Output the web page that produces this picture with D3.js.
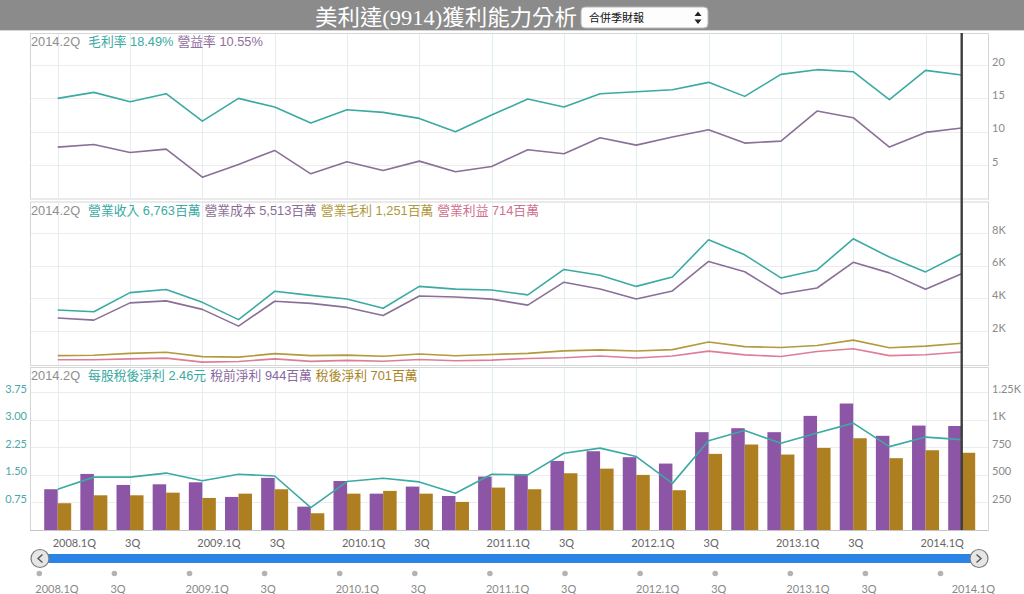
<!DOCTYPE html>
<html><head><meta charset="utf-8">
<script src="https://cdn.jsdelivr.net/npm/d3@7"></script>
<style>body{margin:0;background:#fff;overflow:hidden} svg{display:block}</style>
</head><body><svg id="c" width="1024" height="594"></svg>
<script>
// ---------- DATA ----------
const quarters = ["2008.1Q","2008.2Q","2008.3Q","2008.4Q","2009.1Q","2009.2Q","2009.3Q","2009.4Q",
  "2010.1Q","2010.2Q","2010.3Q","2010.4Q","2011.1Q","2011.2Q","2011.3Q","2011.4Q",
  "2012.1Q","2012.2Q","2012.3Q","2012.4Q","2013.1Q","2013.2Q","2013.3Q","2013.4Q","2014.1Q","2014.2Q"];
// panel 1 (%)
const grossMargin = [15.0,15.9,14.5,15.7,11.6,15.0,13.7,11.3,13.3,12.9,12.0,10.0,12.5,14.9,13.7,15.7,16.0,16.3,17.4,15.3,18.6,19.3,19.0,14.8,19.2,18.49];
const opMargin    = [7.7,8.1,6.9,7.4,3.2,5.1,7.2,3.7,5.5,4.2,5.6,4.0,4.8,7.3,6.7,9.1,8.0,9.2,10.3,8.3,8.6,13.1,12.1,7.7,9.9,10.55];
// panel 2 (百萬)
const revenue     = [3290,3180,4360,4550,3760,2700,4440,4190,3970,3400,4740,4570,4520,4220,5780,5420,4740,5320,7600,6680,5260,5750,7660,6540,5630,6763];
const cost        = [2800,2670,3730,3850,3330,2300,3830,3700,3450,2950,4150,4090,3960,3590,5000,4580,3970,4460,6270,5640,4270,4640,6220,5570,4560,5513];
const grossProfit = [490,510,630,700,430,400,610,490,520,450,590,480,560,630,780,840,770,860,1330,1040,990,1110,1440,970,1070,1251];
const opIncome    = [235,240,290,335,90,125,290,135,195,140,250,175,215,310,355,470,345,465,765,535,435,740,915,490,540,714];
// panel 3
const eps         = [1.11,1.44,1.44,1.55,1.34,1.52,1.47,0.61,1.32,1.41,1.31,1.00,1.52,1.50,2.09,2.23,2.00,1.27,2.43,2.71,2.36,2.64,2.91,2.27,2.53,2.46];
const preTax      = [370,509,409,415,433,300,473,212,445,330,394,309,485,500,627,715,661,603,888,924,888,1036,1148,855,948,944];
const afterTax    = [243,315,315,339,291,330,370,152,330,355,330,255,385,370,515,557,500,361,691,776,685,745,833,652,724,701];
// tick labels
const p1Ticks = [5,10,15,20];
const p2Ticks = [2000,4000,6000,8000];
const p2TickLabels = ["2K","4K","6K","8K"];
const p3LeftTicks = [0.75,1.5,2.25,3.0,3.75];
const p3RightTicks = [250,500,750,1000,1250];
const p3RightLabels = ["250","500","750","1K","1.25K"];
const axisLabelIdx = [0,2,4,6,8,10,12,14,16,18,20,22,24];
const axisLabels = ["2008.1Q","3Q","2009.1Q","3Q","2010.1Q","3Q","2011.1Q","3Q","2012.1Q","3Q","2013.1Q","3Q","2014.1Q"];
const titleText = "美利達(9914)獲利能力分析";
const selectText = "合併季財報";

// ---------- LAYOUT ----------
const svg = d3.select("#c");
const W = 1024, L = 30, R = 988;
const P = [{t:33,b:198.5},{t:201.5,b:365},{t:367,b:530}];
const C = {teal:"#3aaaa2", purple:"#8a6f98", gold:"#b39a3e", pink:"#de7d96",
           barP:"#8c55a6", barG:"#ae7f20", grid:"#ececec", vgrid:"#e0edf1", lbl:"#8a8a8a"};
const FONT = "'Liberation Sans','Noto Sans CJK TC',sans-serif";
const NUMF = "Lato,'Liberation Sans',sans-serif";

const x = d3.scaleLinear().domain([0, quarters.length-1]).range([57.7, 961.7]);
const y1 = d3.scaleLinear().domain([0,20]).range([P[0].b, 65]);
const y2 = d3.scaleLinear().domain([0,8000]).range([363.6, 233.3]);
const y3L = d3.scaleLinear().domain([0,3.75]).range([530, 392.3]);
const y3R = d3.scaleLinear().domain([0,1250]).range([530, 392.3]);
const band = d3.scaleBand().domain(["pre","post"]).range([-13.5, 13.5]).padding(0);

// title bar
svg.append("rect").attr("x",0).attr("y",0).attr("width",W).attr("height",30).attr("fill","#8b8b8b");
svg.append("rect").attr("x",0).attr("y",30).attr("width",W).attr("height",1).attr("fill","#d4d4d4");
svg.append("text").attr("x",315).attr("y",25).attr("fill","#fff")
  .attr("font-family","'Liberation Serif','Noto Sans CJK TC',serif").attr("font-size",22)
  .attr("textLength",262).attr("lengthAdjust","spacingAndGlyphs").text(titleText);
// select box
const sel = svg.append("g");
sel.append("rect").attr("x",581).attr("y",7).attr("width",127).attr("height",21).attr("rx",4)
  .attr("fill","#fdfdfd").attr("stroke","#b5b5b5");
sel.append("text").attr("x",589).attr("y",22).attr("font-size",11).attr("fill","#111")
  .attr("font-family","'Noto Sans CJK TC',sans-serif").text(selectText);
sel.append("path").attr("d","M698,11.5 L701.5,16 L694.5,16 Z M698,24 L701.5,19.5 L694.5,19.5 Z").attr("fill","#222");

// panels
P.forEach(p=>{
  svg.append("rect").attr("x",L+0.5).attr("y",p.t+0.5).attr("width",R-L).attr("height",p.b-p.t)
    .attr("fill","#fff").attr("stroke","#d6d6d6");
});
// vertical grid
P.forEach(p=>{
  svg.append("g").selectAll("line").data(axisLabelIdx).join("line")
    .attr("x1",d=>Math.round(x(d))+0.5).attr("x2",d=>Math.round(x(d))+0.5)
    .attr("y1",p.t+1).attr("y2",p.b).attr("stroke",C.vgrid);
});
function hgrid(scale, ticks){
  svg.append("g").selectAll("line").data(ticks).join("line")
    .attr("x1",L+1).attr("x2",R).attr("y1",d=>Math.round(scale(d))+0.5).attr("y2",d=>Math.round(scale(d))+0.5)
    .attr("stroke",C.grid);
}
hgrid(y1,p1Ticks); hgrid(y2,p2Ticks); hgrid(y3L,p3LeftTicks);

// right axes
function rightAxis(scale, ticks, labels){
  const g = svg.append("g").attr("transform",`translate(992,0)`)
    .call(d3.axisRight(scale).tickValues(ticks).tickSize(0).tickPadding(0)
      .tickFormat((d,i)=>labels? labels[i] : d));
  g.select(".domain").remove();
  g.selectAll("text").attr("dy","0").attr("fill",C.lbl).attr("font-size",11).attr("font-family",NUMF);
}
rightAxis(y1,p1Ticks,null);
rightAxis(y2,p2Ticks,p2TickLabels);
rightAxis(y3R,p3RightTicks,p3RightLabels);
// left axis panel 3
{
  const g = svg.append("g").attr("transform",`translate(27,0)`)
    .call(d3.axisLeft(y3L).tickValues(p3LeftTicks).tickSize(0).tickPadding(0).tickFormat(d3.format(".2f")));
  g.select(".domain").remove();
  g.selectAll("text").attr("dy","0").attr("fill","#4aa8a8").attr("font-size",11).attr("font-family",NUMF);
}

// line helper
function drawLine(data, scale, color){
  svg.append("path").datum(data)
    .attr("d", d3.line().x((d,i)=>x(i)).y(d=>scale(d)))
    .attr("fill","none").attr("stroke",color).attr("stroke-width",1.6).attr("stroke-linejoin","round");
}
// panel 1
drawLine(grossMargin,y1,C.teal);
drawLine(opMargin,y1,C.purple);
// panel 2
drawLine(grossProfit,y2,C.gold);
drawLine(opIncome,y2,C.pink);
drawLine(cost,y2,C.purple);
drawLine(revenue,y2,C.teal);
// panel 3 bars
svg.append("g").selectAll("rect").data(preTax).join("rect")
  .attr("x",(d,i)=>x(i)+band("pre")).attr("width",band.bandwidth())
  .attr("y",d=>y3R(d)).attr("height",d=>y3R(0)-y3R(d)).attr("fill",C.barP);
svg.append("g").selectAll("rect").data(afterTax).join("rect")
  .attr("x",(d,i)=>x(i)+band("post")).attr("width",band.bandwidth())
  .attr("y",d=>y3R(d)).attr("height",d=>y3R(0)-y3R(d)).attr("fill",C.barG);
drawLine(eps,y3L,C.teal);
// bottom axis line
svg.append("line").attr("x1",L).attr("x2",R).attr("y1",530.5).attr("y2",530.5).attr("stroke","#c4c4c4");

// crosshair at last quarter
const last = quarters.length-1;
svg.append("line").attr("x1",x(last)).attr("x2",x(last)).attr("y1",P[0].t).attr("y2",530)
  .attr("stroke","#3e3e3e").attr("stroke-width",2.4);

// legends
const fmt = d3.format(",");
function legend(y, items){
  const t = svg.append("text").attr("x",31).attr("y",y).attr("font-size",12.8).attr("font-family",FONT);
  t.append("tspan").attr("fill","#8e8e8e").text(quarters[last]);
  items.forEach((it,k)=>{
    t.append("tspan").attr("dx", k===0?8:4).attr("fill",it[1]).text(it[0]);
  });
}
legend(45.5,[["毛利率 "+grossMargin[last]+"%",C.teal],["營益率 "+opMargin[last]+"%","#8e6e9e"]]);
legend(214.5,[["營業收入 "+fmt(revenue[last])+"百萬",C.teal],["營業成本 "+fmt(cost[last])+"百萬","#8a6e96"],
  ["營業毛利 "+fmt(grossProfit[last])+"百萬","#b09838"],["營業利益 "+fmt(opIncome[last])+"百萬","#d0708c"]]);
legend(380,[["每股稅後淨利 "+eps[last]+"元",C.teal],["稅前淨利 "+fmt(preTax[last])+"百萬","#8a68a0"],
  ["稅後淨利 "+fmt(afterTax[last])+"百萬","#a8841e"]]);

// x axis labels
svg.append("g").selectAll("text").data(axisLabelIdx).join("text")
  .attr("x",d=>x(d)-5).attr("y",546.5).attr("font-size",11).attr("fill","#666").attr("font-family",NUMF)
  .text((d,i)=>axisLabels[i]);

// navigator
const nx = d3.scaleLinear().domain([0, 24]).range([39.3, 940.5]);
svg.append("rect").attr("x",46).attr("y",554).attr("width",927).attr("height",9).attr("fill","#2a84e6");
[[40,"M42.5,554.5 L38,558.5 L42.5,562.5"],[979,"M976.5,554.5 L981,558.5 L976.5,562.5"]].forEach(b=>{
  svg.append("circle").attr("cx",b[0]).attr("cy",558.5).attr("r",9).attr("fill","#e6e6e6").attr("stroke","#7a7a7a").attr("stroke-width",1.2);
  svg.append("path").attr("d",b[1]).attr("fill","none").attr("stroke","#555").attr("stroke-width",1.4);
});
svg.append("g").selectAll("circle").data(axisLabelIdx).join("circle")
  .attr("cx",d=>nx(d)).attr("cy",573.5).attr("r",2.8).attr("fill","#b3b3b3");
svg.append("g").selectAll("text").data(axisLabelIdx).join("text")
  .attr("x",(d,i)=> i===axisLabelIdx.length-1 ? 995 : nx(d)-4)
  .attr("text-anchor",(d,i)=> i===axisLabelIdx.length-1 ? "end" : "start")
  .attr("y",593).attr("font-size",11).attr("fill","#888").attr("font-family",NUMF)
  .text((d,i)=>axisLabels[i]);
</script></body></html>
